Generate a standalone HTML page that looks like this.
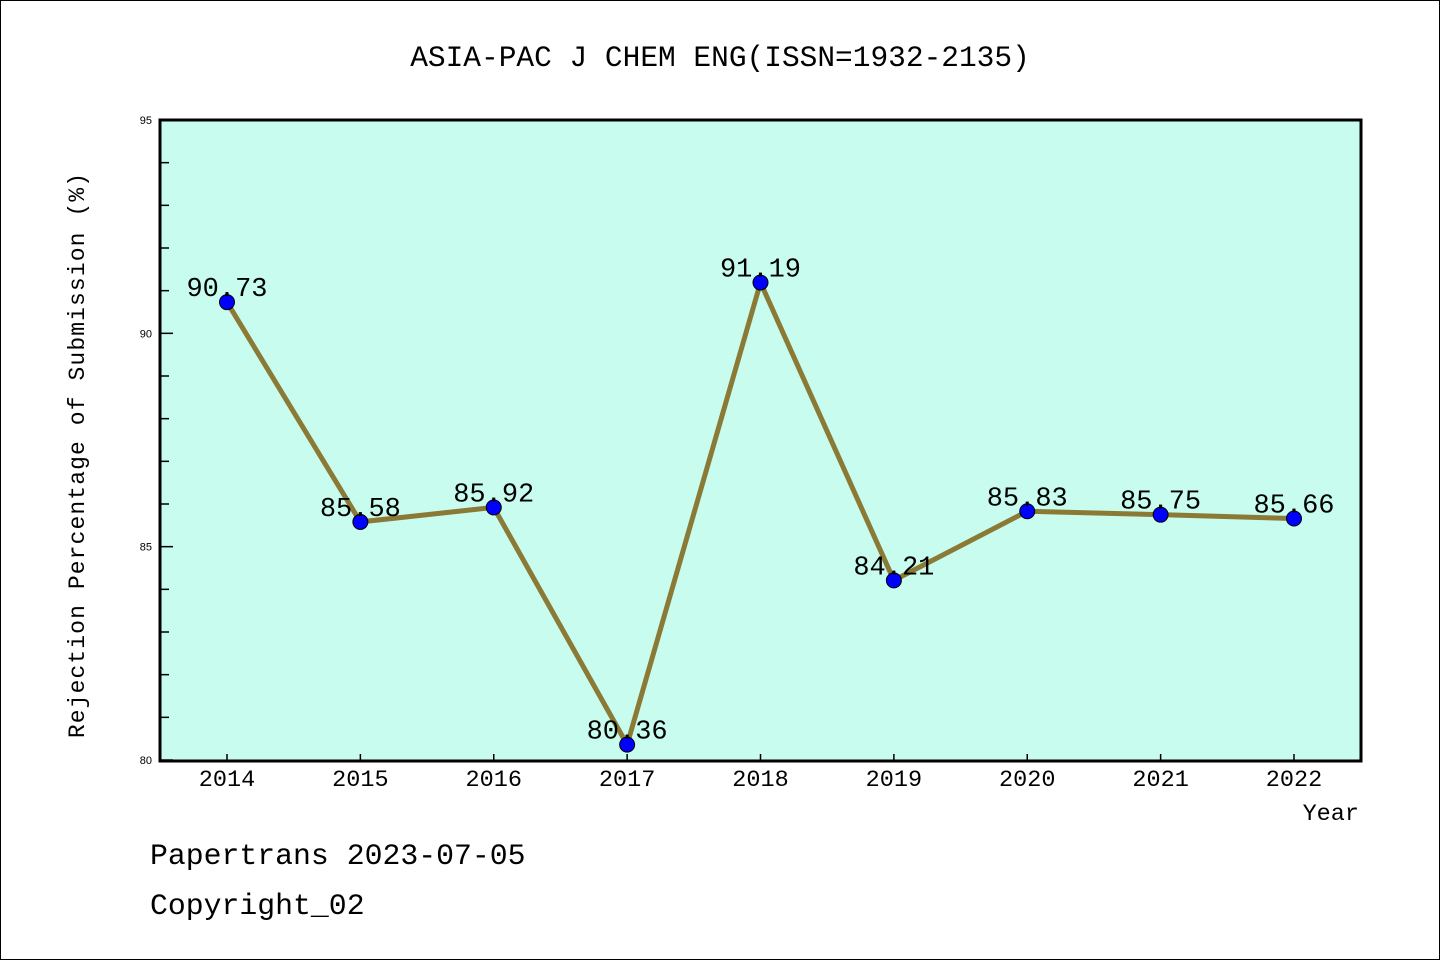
<!DOCTYPE html>
<html><head><meta charset="utf-8"><style>
html,body{margin:0;padding:0;background:#fff;}
svg{display:block;font-family:"Liberation Mono",monospace;}
</style></head><body>
<svg id="chart" width="1440" height="960" xmlns="http://www.w3.org/2000/svg">
<rect x="0.5" y="0.5" width="1439" height="959" fill="#fff" stroke="#000" stroke-width="1"/>
<text x="720" y="66" font-size="29.5" text-anchor="middle">ASIA-PAC J CHEM ENG(ISSN=1932-2135)</text>
<rect x="160" y="120" width="1201" height="641" fill="#c7fcee"/>
<g id="yticks"></g>
<g id="xticks"></g>
<g id="series"></g>
<rect x="160" y="120" width="1201" height="641" fill="none" stroke="#000" stroke-width="3"/>
<text transform="translate(84,455) rotate(-90)" font-size="23" text-anchor="middle" letter-spacing="1.1">Rejection Percentage of Submission (%)</text>
<text x="1359" y="820" font-size="23.5" text-anchor="end">Year</text>
<text x="150" y="864" font-size="29.8">Papertrans 2023-07-05</text>
<text x="150" y="914" font-size="29.8">Copyright_02</text>
</svg>
<script>
const years = ["2014","2015","2016","2017","2018","2019","2020","2021","2022"];
const values = [90.73,85.58,85.92,80.36,91.19,84.21,85.83,85.75,85.66];
const yTickLabels = [80,85,90,95];
const NS="http://www.w3.org/2000/svg";
const yMin=80,yMax=95;
function yScale(v){return 760-(v-yMin)/(yMax-yMin)*640;}
function xScale(i){return 227+i*(1294-227)/(years.length-1);}
function mk(tag,attrs,parent){const e=document.createElementNS(NS,tag);for(const k in attrs)e.setAttribute(k,attrs[k]);parent.appendChild(e);return e;}
const yg=document.getElementById('yticks');
for(let v=yMin;v<=yMax;v++){
  const major=(v%5===0);
  const t=mk('line',{x1:160,x2:major?173:169,y1:yScale(v),y2:yScale(v),stroke:'#000','stroke-width':1.5},yg);
  
  
}
yTickLabels.forEach(v=>{
  const t=mk('text',{x:152,y:yScale(v)+4,'font-size':11,'text-anchor':'end','font-family':'Liberation Sans, sans-serif'},yg);
  t.textContent=v;
  
  
});
const xg=document.getElementById('xticks');
years.forEach((y,i)=>{
  const l=mk('line',{x1:xScale(i),x2:xScale(i),y1:761,y2:754,stroke:'#000','stroke-width':1.5},xg);
  
  
  const t=mk('text',{x:xScale(i),y:786,'font-size':23.5,'text-anchor':'middle'},xg);
  t.textContent=y;
  
  
});
const sg=document.getElementById('series');
const pts=values.map((v,i)=>xScale(i)+','+yScale(v)).join(' ');
const pl=mk('polyline',{points:pts,fill:'none',stroke:'#8b7a35','stroke-width':5,'stroke-linejoin':'round'},sg);


values.forEach((v,i)=>{
  const c=mk('circle',{cx:xScale(i),cy:yScale(v),r:7.5,fill:'#0000ff',stroke:'#000','stroke-width':1},sg);
  
  
  const t=mk('text',{x:xScale(i),y:yScale(v)-6,'font-size':27,'text-anchor':'middle'},sg);
  t.textContent=v.toFixed(2);
  
  
});
</script>
</body></html>
